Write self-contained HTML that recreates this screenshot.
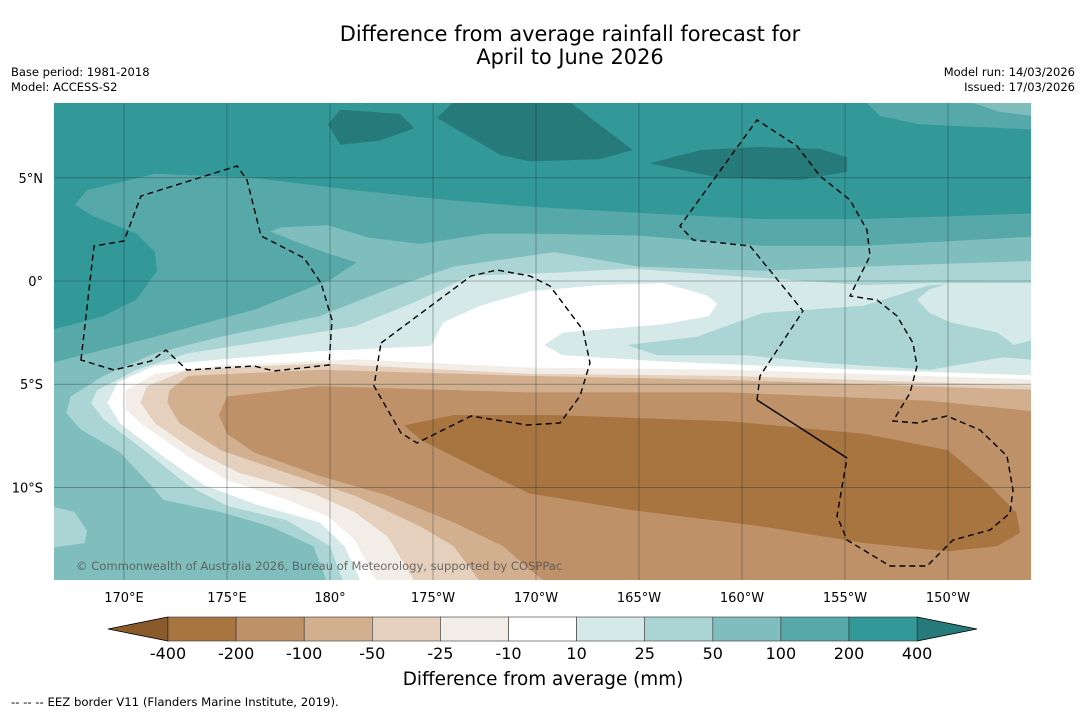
<!DOCTYPE html>
<html><head><meta charset="utf-8">
<style>
html,body{margin:0;padding:0;background:#fff;}
body{width:1085px;height:713px;overflow:hidden;font-family:"DejaVu Sans","Liberation Sans",sans-serif;}
svg text{font-family:"DejaVu Sans","Liberation Sans",sans-serif;}
</style></head>
<body>
<svg id="chart" width="1085" height="713" viewBox="0 0 1085 713" xmlns="http://www.w3.org/2000/svg">
<defs><clipPath id="mapclip"><rect x="54" y="103" width="977" height="477"/></clipPath></defs>
<text x="570" y="41" font-size="20.9" text-anchor="middle">Difference from average rainfall forecast for</text>
<text x="570" y="64" font-size="20.9" text-anchor="middle">April to June 2026</text>
<text x="11" y="76" font-size="11.5">Base period: 1981-2018</text>
<text x="11" y="91" font-size="11.5">Model: ACCESS-S2</text>
<text x="1075" y="76" font-size="11.5" text-anchor="end">Model run: 14/03/2026</text>
<text x="1075" y="91" font-size="11.5" text-anchor="end">Issued: 17/03/2026</text>
<g id="map" clip-path="url(#mapclip)"></g>
<g id="eez" clip-path="url(#mapclip)" fill="none" stroke="#000" stroke-width="1.4" stroke-dasharray="6,4">
<path d="M81,360 L94,246 L124,241 L141,196 L237,166 L247,180 L261,236 L271,241 L304,258 L321,283 L332,320 L329,365 L274,371 L254,366 L187,370 L166,350 L151,361 L114,370 Z"/>
<path d="M381,343 L471,276 L497,270 L530,276 L550,286 L583,330 L590,363 L580,396 L560,423 L527,425 L471,416 L417,443 L401,433 L374,386 Z"/>
<path d="M757,400 L760,376 L803,311 L750,246 L693,240 L680,226 L757,120 L797,146 L820,176 L850,200 L867,230 L870,256 L850,296 L877,300 L897,316 L913,343 L917,366 L910,393 L893,421 L917,423 L947,416 L980,430 L1007,456 L1013,490 L1010,513 L990,530 L953,540 L927,566 L890,566 L847,540 L837,516 L847,458"/>
<path d="M757,400 L847,458" stroke-dasharray="none"/>
</g>
<g id="grid"></g>
<text x="76" y="570" font-size="11.55" fill="#555" fill-opacity="0.85">© Commonwealth of Australia 2026, Bureau of Meteorology, supported by COSPPac</text>
<g id="axes"></g>
<g id="cbar"></g>
<text x="543" y="685" font-size="18.4" text-anchor="middle">Difference from average (mm)</text>
<text x="11" y="706" font-size="11.7">--  --  -- EEZ border V11 (Flanders Marine Institute, 2019).</text>
</svg>
<script>
// Colorbar data
const levelLabels = ["-400","-200","-100","-50","-25","-10","10","25","50","100","200","400"];
const levelColors = ["#a87440","#be9168","#d2b08f","#e5d0bd","#f3ede7","#ffffff","#d4e9e8","#aad5d4","#80bebd","#57a9a9","#339898"];
const extendLow = "#8b5a2b";
const extendHigh = "#277a7a";
// Axis ticks
const lonTicks = [170,175,180,185,190,195,200,205,210];
const lonTickLabels = ["170°E","175°E","180°","175°W","170°W","165°W","160°W","155°W","150°W"];
const latTicks = [5,0,-5,-10];
const latTickLabels = ["5°N","0°","5°S","10°S"];
// Contour polygons (lon east 0-360, lat) flattened pairs, drawn back to front
const contourBg = "#339898";
const contourC = [167.6,3.7,168.2,4.4,171.5,5.2,176.3,5.0,181.2,4.4,186.0,3.9,189.7,3.6,195.0,3.3,201.0,3.0,205.9,3.0,215,3.3,215,-15,166,-15,166,-2.5,169.0,-1.7,170.6,-0.9,171.6,0.5,171.5,1.4,170.6,2.3,168.5,3.15];
const contourC2 = [205.7,9,206.7,8.0,208.6,7.6,215,7.3,215,9];
const contourD2 = [210.1,9,212.5,8.2,215,7.9,215,9];
const contourP1 = [179.9,7.6,180.5,8.3,183.4,8.1,184.1,7.4,182.4,6.8,180.5,6.6];
const contourP2 = [185.2,7.9,186.3,9,191.2,9,194.7,6.35,193.1,5.9,189.7,5.8,188.3,6.1];
const contourP3 = [195.5,5.7,198.0,6.35,200.9,6.5,203.8,6.4,205.1,6.0,205.1,5.3,202.8,4.9,198.9,5.0,197.0,5.4];
const contourD = [166,-4.1,171.5,-2.7,176.3,-1.4,180.0,0.05,181.3,0.9,180.0,1.3,178.1,2.0,177.1,2.4,177.6,2.6,179.9,2.7,181.9,2.1,184.4,1.8,187.6,2.3,189.7,2.3,195.0,2.2,201.0,1.7,205.9,1.7,215,2.2,215,-15,166,-15];
const contourE = [215,1.0,205.9,0.7,201.0,0.5,195.0,0.7,190.9,1.4,186.0,0.7,182.8,-0.4,179.5,-1.7,174.7,-2.7,171.5,-3.5,169.0,-4.6,167.4,-5.6,167.2,-6.4,167.9,-7.2,169.8,-8.3,171.3,-9.9,171.9,-10.6,174.7,-11.2,177.1,-11.9,179.2,-12.85,180.0,-15,215,-15];
const contourEblob = [166,-10.8,167.6,-11.2,168.2,-12.1,168.1,-12.7,166,-13.0];
const contourF = [215,-0.1,209.1,-0.1,205.9,-0.2,199.4,0.25,194.6,0.6,190.9,0.4,186.8,0.25,184.4,-0.9,181.2,-2.2,176.3,-3.0,173.1,-3.5,170.6,-4.3,168.7,-5.3,168.4,-5.9,169.0,-6.7,171.1,-8.3,173.1,-9.9,175.0,-10.9,177.9,-11.6,180.0,-12.85,180.8,-15,215,-15];
const contourEpatch = [194.4,-3.1,197.8,-2.7,201.0,-1.55,205.9,-1.2,209.1,-0.2,215,0,215,-3.9,212.7,-3.7,209.1,-4.3,204.3,-4.0,200.2,-3.6,195.9,-3.6];
const contourFpatch = [208.5,-0.9,209.1,-0.4,210.1,-0.1,215,-0.1,215,-2.6,213.2,-3.1,212.4,-2.5,210.1,-2.0,209.1,-1.55];
const contourW = [181.7,-15,180.7,-12.85,179.5,-11.7,176.3,-10.8,173.9,-9.9,171.9,-8.5,169.8,-6.9,169.2,-5.9,169.7,-4.9,171.5,-4.1,174.7,-3.8,179.5,-3.4,184.9,-3.15,185.5,-2.0,187.3,-1.2,189.7,-0.5,193.1,-0.2,196.2,-0.1,198.3,-0.7,198.8,-1.1,198.4,-1.7,196.2,-2.1,191.3,-2.5,190.4,-3.1,191.3,-3.6,196.2,-3.9,201.0,-4.1,205.9,-4.3,215,-4.6,215,-15];
const contourH = [215,-4.8,199.4,-4.3,189.7,-4.2,181.2,-3.8,174.7,-4.1,171.5,-4.5,170.1,-5.3,170.1,-6.25,170.8,-6.9,173.1,-8.5,175.0,-9.65,177.9,-10.6,179.9,-11.4,181.2,-12.55,182.5,-15,215,-15];
const contourI = [215,-5.1,199.4,-4.6,189.7,-4.5,179.5,-4.0,173.1,-4.3,171.1,-5.1,170.8,-5.9,171.5,-6.9,173.4,-8.2,175.6,-9.3,179.2,-10.3,181.2,-11.2,182.8,-12.4,184.4,-15,215,-15];
const contourJ = [215,-5.3,199.4,-4.8,189.7,-4.6,179.5,-4.3,173.1,-4.6,172.2,-5.3,172.1,-5.9,172.7,-6.9,174.7,-8.2,177.9,-9.3,181.2,-10.4,184.4,-11.9,186.0,-12.85,187.6,-15,215,-15];
const contourK = [215,-6.4,209.1,-5.8,199.4,-5.4,189.7,-5.4,179.5,-5.1,175.0,-5.6,174.6,-6.5,175.0,-7.4,176.3,-8.3,179.5,-9.45,182.8,-10.4,186.0,-11.7,188.4,-12.85,189.7,-14.0,191.0,-15,215,-15];
const contourL = [183.6,-7.0,186.0,-6.5,190.9,-6.5,199.4,-6.8,205.9,-7.4,210.0,-8.2,212.0,-9.9,213.3,-11.2,213.5,-12.2,212.4,-12.85,210.0,-13.1,205.9,-12.7,201.0,-11.9,194.6,-11.1,189.7,-10.3,187.6,-9.3,184.4,-7.7];

const NS="http://www.w3.org/2000/svg";
function xScale(lon){return 124+(lon-170)*20.6;}
function yScale(lat){return 281-lat*20.63;}
function cbX(i){return 168+i*68.1;}

const layers=[
 ["contour-100-200",contourC,"#57a9a9"],["contour-100-200-ne",contourC2,"#57a9a9"],["contour-50-100-ne",contourD2,"#80bebd"],
 ["contour-over-400-a",contourP1,"#277a7a"],["contour-over-400-b",contourP2,"#277a7a"],["contour-over-400-c",contourP3,"#277a7a"],
 ["contour-50-100",contourD,"#80bebd"],["contour-25-50",contourE,"#aad5d4"],["contour-25-50-sw",contourEblob,"#aad5d4"],
 ["contour-10-25",contourF,"#d4e9e8"],["contour-25-50-east",contourEpatch,"#aad5d4"],["contour-10-25-east",contourFpatch,"#d4e9e8"],
 ["contour-near-normal",contourW,"#ffffff"],["contour-minus-10-25",contourH,"#f3ede7"],["contour-minus-25-50",contourI,"#e5d0bd"],
 ["contour-minus-50-100",contourJ,"#d2b08f"],["contour-minus-100-200",contourK,"#be9168"],["contour-minus-200-400",contourL,"#a87440"]
];
const map=document.getElementById('map');
const bg=document.createElementNS(NS,'rect');


bg.setAttribute('x',54);bg.setAttribute('y',103);bg.setAttribute('width',977);bg.setAttribute('height',477);bg.setAttribute('fill',contourBg);
map.appendChild(bg);
layers.forEach(function(l){
  const pts=[];
  for(let i=0;i<l[1].length;i+=2){pts.push(xScale(l[1][i]).toFixed(1)+','+yScale(l[1][i+1]).toFixed(1));}
  const p=document.createElementNS(NS,'polygon');
  
  
  p.setAttribute('points',pts.join(' '));
  p.setAttribute('fill',l[2]);
  map.appendChild(p);
});
const grid=document.getElementById('grid');
const axes=document.getElementById('axes');
lonTicks.forEach(function(lon,i){
  const ln=document.createElementNS(NS,'line');
  
  
  const x=xScale(lon);
  ln.setAttribute('x1',x);ln.setAttribute('x2',x);ln.setAttribute('y1',103);ln.setAttribute('y2',580);
  ln.setAttribute('stroke','#1a3030');ln.setAttribute('stroke-width','0.6');ln.setAttribute('stroke-opacity','0.6');
  grid.appendChild(ln);
  const t=document.createElementNS(NS,'text');
  
  
  t.setAttribute('x',x);t.setAttribute('y',602);t.setAttribute('font-size','13');t.setAttribute('text-anchor','middle');
  t.textContent=lonTickLabels[i];
  axes.appendChild(t);
});
latTicks.forEach(function(lat,i){
  const ln=document.createElementNS(NS,'line');
  
  
  const y=yScale(lat);
  ln.setAttribute('x1',54);ln.setAttribute('x2',1031);ln.setAttribute('y1',y);ln.setAttribute('y2',y);
  ln.setAttribute('stroke','#1a3030');ln.setAttribute('stroke-width','0.6');ln.setAttribute('stroke-opacity','0.6');
  grid.appendChild(ln);
  const t=document.createElementNS(NS,'text');
  
  
  t.setAttribute('x',43);t.setAttribute('y',y+5);t.setAttribute('font-size','13');t.setAttribute('text-anchor','end');
  t.textContent=latTickLabels[i];
  axes.appendChild(t);
});
const cb=document.getElementById('cbar');
const lo=document.createElementNS(NS,'polygon');


lo.setAttribute('points','108,629 '+cbX(0)+',617 '+cbX(0)+',641');lo.setAttribute('fill',extendLow);lo.setAttribute('stroke','#000');lo.setAttribute('stroke-width','0.8');
cb.appendChild(lo);
const n=levelColors.length;
const hi=document.createElementNS(NS,'polygon');


hi.setAttribute('points',cbX(n)+',617 977,629 '+cbX(n)+',641');hi.setAttribute('fill',extendHigh);hi.setAttribute('stroke','#000');hi.setAttribute('stroke-width','0.8');
cb.appendChild(hi);
levelColors.forEach(function(c,i){
  const r=document.createElementNS(NS,'rect');
  
  
  r.setAttribute('x',cbX(i));r.setAttribute('y',617);r.setAttribute('width',68.1);r.setAttribute('height',24);
  r.setAttribute('fill',c);r.setAttribute('stroke','#333');r.setAttribute('stroke-width','0.6');
  cb.appendChild(r);
});
levelLabels.forEach(function(s,i){
  const t=document.createElementNS(NS,'text');
  
  
  t.setAttribute('x',cbX(i));t.setAttribute('y',659);t.setAttribute('font-size','16');t.setAttribute('text-anchor','middle');
  t.textContent=s;
  cb.appendChild(t);
});
</script>
</body></html>
